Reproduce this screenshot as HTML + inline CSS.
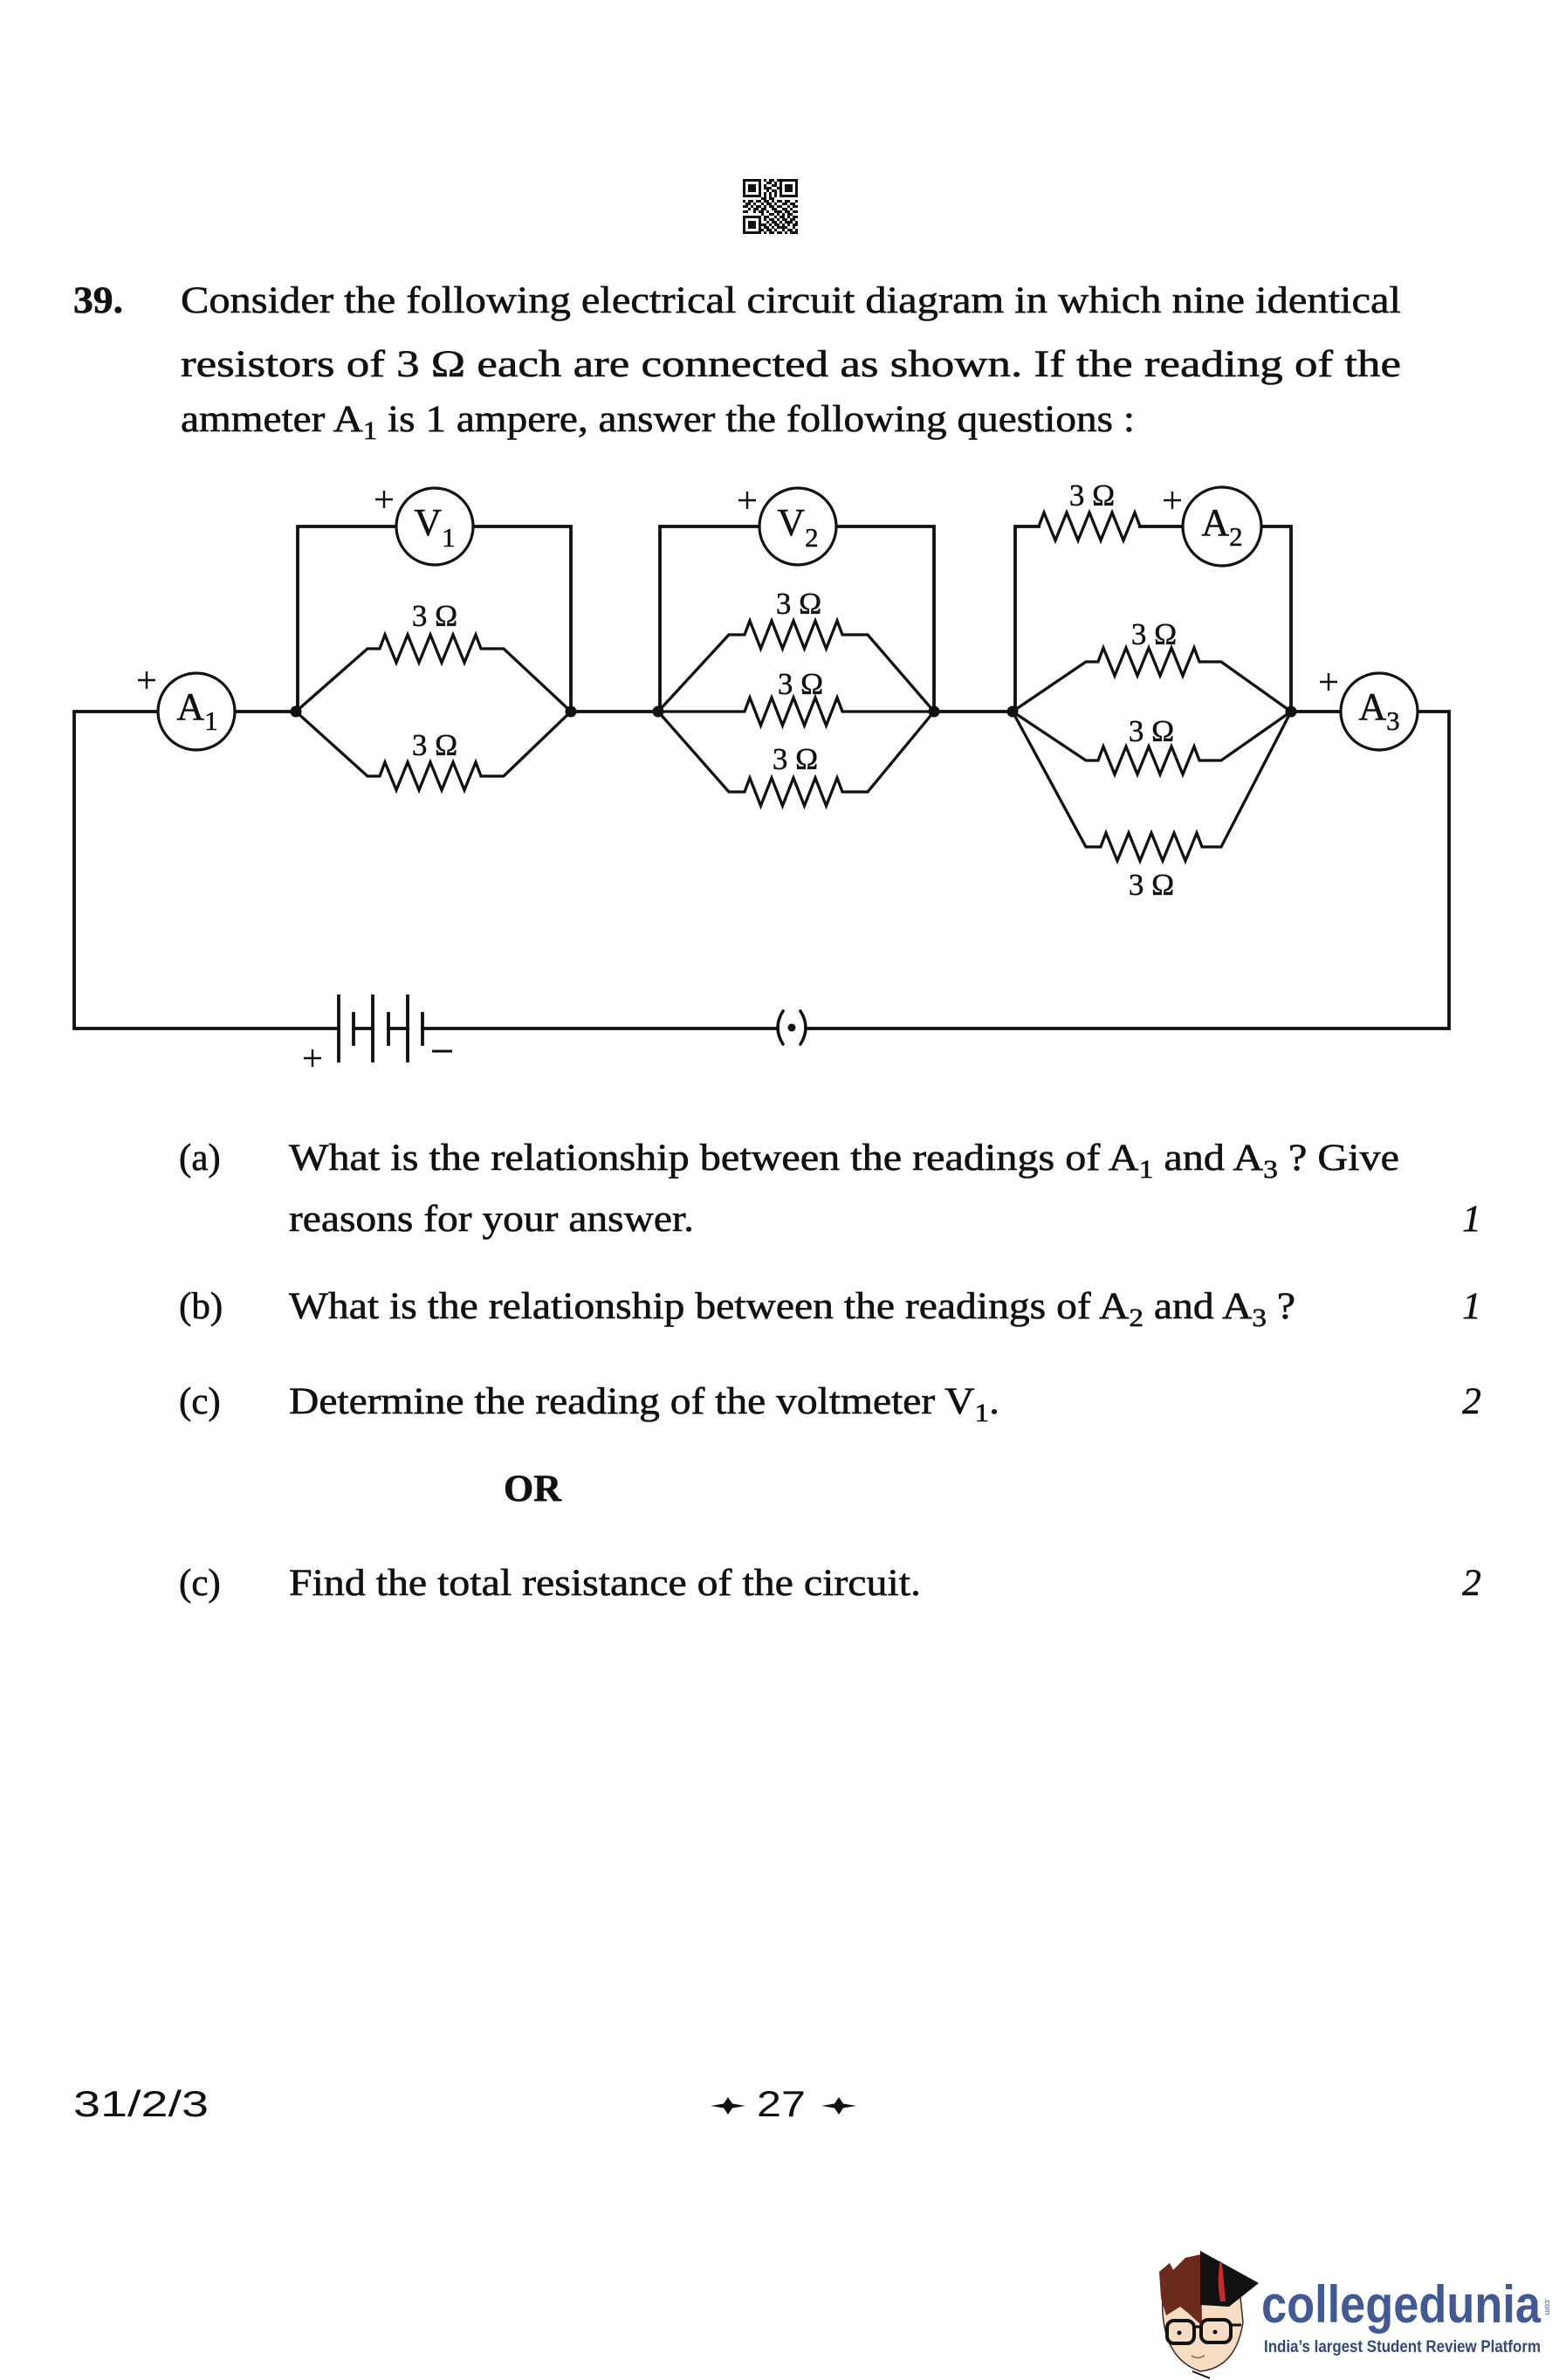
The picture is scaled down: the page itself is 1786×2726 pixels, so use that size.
<!DOCTYPE html>
<html>
<head>
<meta charset="utf-8">
<style>
html,body{margin:0;padding:0;background:#fff;}
body{width:1786px;height:2726px;overflow:hidden;position:relative;}
svg{position:absolute;left:0;top:0;}
.t{font-family:"Liberation Serif",serif;font-size:43px;fill:#111;stroke:#111;stroke-width:0.6;}
.lbl{font-family:"Liberation Serif",serif;font-size:35px;fill:#111;text-anchor:middle;stroke:#111;stroke-width:0.5;}
.m{font-family:"Liberation Serif",serif;font-size:44px;fill:#111;text-anchor:middle;stroke:#111;stroke-width:0.5;}
.w{fill:none;stroke:#111;stroke-width:3.8;stroke-linejoin:miter;stroke-linecap:square;}
.z{fill:none;stroke:#111;stroke-width:3.3;stroke-linejoin:miter;}
.c{fill:#fff;stroke:#111;stroke-width:3.2;}
.p{stroke:#111;stroke-width:2.4;fill:none;}
</style>
</head>
<body>
<svg width="1786" height="2726" viewBox="0 0 1786 2726" xmlns="http://www.w3.org/2000/svg">
<!-- QR code -->
<g transform="translate(851,205) scale(3)" fill="#111" shape-rendering="crispEdges">
<path d="M0 0h7v1h-7z M8 0h1v1h-1z M10 0h2v1h-2z M13 0h8v1h-8z
M0 1h1v1h-1z M6 1h1v1h-1z M9 1h2v1h-2z M12 1h1v1h-1z M14 1h1v1h-1z M20 1h1v1h-1z
M0 2h1v1h-1z M2 2h3v1h-3z M6 2h1v1h-1z M8 2h1v1h-1z M11 2h2v1h-2z M14 2h1v1h-1z M16 2h3v1h-3z M20 2h1v1h-1z
M0 3h1v1h-1z M2 3h3v1h-3z M6 3h1v1h-1z M8 3h3v1h-3z M13 3h2v1h-2z M16 3h3v1h-3z M20 3h1v1h-1z
M0 4h1v1h-1z M2 4h3v1h-3z M6 4h1v1h-1z M9 4h1v1h-1z M11 4h2v1h-2z M14 4h1v1h-1z M16 4h3v1h-3z M20 4h1v1h-1z
M0 5h1v1h-1z M6 5h1v1h-1z M8 5h1v1h-1z M10 5h1v1h-1z M12 5h1v1h-1z M14 5h1v1h-1z M20 5h1v1h-1z
M0 6h7v1h-7z M8 6h1v1h-1z M10 6h1v1h-1z M12 6h1v1h-1z M14 6h7v1h-7z
M7 7h2v1h-2z M10 7h2v1h-2z
M0 8h1v1h-1z M2 8h2v1h-2z M5 8h2v1h-2z M8 8h2v1h-2z M11 8h1v1h-1z M13 8h2v1h-2z M16 8h2v1h-2z M20 8h1v1h-1z
M1 9h2v1h-2z M4 9h1v1h-1z M7 9h1v1h-1z M9 9h2v1h-2z M12 9h1v1h-1z M15 9h2v1h-2z M18 9h2v1h-2z
M0 10h2v1h-2z M3 10h1v1h-1z M5 10h2v1h-2z M8 10h1v1h-1z M10 10h2v1h-2z M13 10h2v1h-2z M17 10h1v1h-1z M19 10h2v1h-2z
M2 11h1v1h-1z M4 11h2v1h-2z M7 11h2v1h-2z M11 11h2v1h-2z M15 11h2v1h-2z M18 11h1v1h-1z
M0 12h2v1h-2z M4 12h1v1h-1z M6 12h2v1h-2z M9 12h1v1h-1z M12 12h3v1h-3z M16 12h2v1h-2z M19 12h2v1h-2z
M7 13h1v1h-1z M10 13h2v1h-2z M13 13h1v1h-1z M15 13h1v1h-1z M17 13h2v1h-2z
M0 14h7v1h-7z M8 14h2v1h-2z M12 14h1v1h-1z M14 14h2v1h-2z M17 14h1v1h-1z M19 14h2v1h-2z
M0 15h1v1h-1z M6 15h1v1h-1z M8 15h1v1h-1z M10 15h2v1h-2z M13 15h1v1h-1z M15 15h2v1h-2z M18 15h2v1h-2z
M0 16h1v1h-1z M2 16h3v1h-3z M6 16h1v1h-1z M9 16h1v1h-1z M11 16h2v1h-2z M14 16h1v1h-1z M16 16h3v1h-3z M20 16h1v1h-1z
M0 17h1v1h-1z M2 17h3v1h-3z M6 17h3v1h-3z M10 17h1v1h-1z M12 17h2v1h-2z M15 17h1v1h-1z M17 17h1v1h-1z M19 17h2v1h-2z
M0 18h1v1h-1z M2 18h3v1h-3z M6 18h1v1h-1z M8 18h2v1h-2z M11 18h1v1h-1z M13 18h4v1h-4z M19 18h1v1h-1z
M0 19h1v1h-1z M6 19h2v1h-2z M9 19h2v1h-2z M12 19h1v1h-1z M15 19h1v1h-1z M17 19h2v1h-2z M20 19h1v1h-1z
M0 20h7v1h-7z M8 20h1v1h-1z M10 20h2v1h-2z M13 20h2v1h-2z M16 20h1v1h-1z M18 20h3v1h-3z"/>
</g>

<!-- Question text -->
<text class="t" x="84" y="358" font-weight="bold" textLength="57" lengthAdjust="spacingAndGlyphs">39.</text>
<text class="t" x="207" y="358" textLength="1398" lengthAdjust="spacingAndGlyphs">Consider the following electrical circuit diagram in which nine identical</text>
<text class="t" x="207" y="431" textLength="1398" lengthAdjust="spacingAndGlyphs">resistors of 3 Ω each are connected as shown. If the reading of the</text>
<text class="t" x="207" y="494" textLength="1093" lengthAdjust="spacingAndGlyphs">ammeter A<tspan dy="9" font-size="30">1</tspan><tspan dy="-9"> is 1 ampere, answer the following questions :</tspan></text>

<!-- Circuit wires -->
<path class="w" d="M181,815 H85 V1178 H388
M269,815 H339
M654,815 H754
M1070,815 H1160
M1479,815 H1536
M1624,815 H1660 V1178 H923
M891,1178 H484
M405,1178 H427
M445,1178 H467
M341,815 V603 H454
M542,603 H654 V815
M756,815 V603 H870
M958,603 H1070 V815
M1163,815 V603 H1190
M1306,603 H1355
M1445,603 H1479 V815"/>

<!-- Resistors -->
<g class="z">
<path d="M339,815 L421,743 L435,743 l6,-16 l13,32 l13,-32 l13,32 l13,-32 l13,32 l13,-32 l13,32 l13,-32 l6,16 L577,743 L654,815"/>
<path d="M339,815 L421,889 L435,889 l6,-16 l13,32 l13,-32 l13,32 l13,-32 l13,32 l13,-32 l13,32 l13,-32 l6,16 L577,889 L654,815"/>
<path d="M754,815 L835,727 L853,727 l6,-16 l12.5,32 l12.5,-32 l12.5,32 l12.5,-32 l12.5,32 l12.5,-32 l12.5,32 l12.5,-32 l6,16 L994,727 L1070,815"/>
<path d="M754,815 L853,815 l6,-16 l12.5,32 l12.5,-32 l12.5,32 l12.5,-32 l12.5,32 l12.5,-32 l12.5,32 l12.5,-32 l6,16 L1070,815"/>
<path d="M754,815 L835,907 L853,907 l6,-16 l12.5,32 l12.5,-32 l12.5,32 l12.5,-32 l12.5,32 l12.5,-32 l12.5,32 l12.5,-32 l6,16 L994,907 L1070,815"/>
<path d="M1190,603 l6,-16 l13,32 l13,-32 l13,32 l13,-32 l13,32 l13,-32 l13,32 l13,-32 l6,16"/>
<path d="M1160,815 L1244,758 L1258,758 l6,-16 l13,32 l13,-32 l13,32 l13,-32 l13,32 l13,-32 l13,32 l13,-32 l6,16 L1399,758 L1479,815"/>
<path d="M1160,815 L1244,871 L1258,871 l6,-16 l13,32 l13,-32 l13,32 l13,-32 l13,32 l13,-32 l13,32 l13,-32 l6,16 L1399,871 L1479,815"/>
<path d="M1160,815 L1244,970 L1261,970 l6,-16 l13,32 l13,-32 l13,32 l13,-32 l13,32 l13,-32 l13,32 l13,-32 l6,16 L1399,970 L1479,815"/>
</g>

<!-- Battery -->
<path class="w" d="M388,1141 V1215 M427,1141 V1215 M467,1141 V1215 M405,1161 V1196 M445,1161 V1196 M484,1161 V1196" stroke-linecap="butt"/>
<path d="M495,1204 H518" stroke="#111" stroke-width="3"/>
<path class="p" d="M348,1212 H368 M358,1202 V1222"/>

<!-- Key -->
<path d="M897,1158 Q885,1177 897,1196 M917,1158 Q929,1177 917,1196" fill="none" stroke="#111" stroke-width="3.5" stroke-linecap="round"/>
<circle cx="907" cy="1177" r="4.5" fill="#111"/>

<!-- Nodes -->
<g fill="#111">
<circle cx="339" cy="815" r="6.5"/>
<circle cx="654" cy="815" r="6.5"/>
<circle cx="754" cy="815" r="6.5"/>
<circle cx="1070" cy="815" r="6.5"/>
<circle cx="1160" cy="815" r="6.5"/>
<circle cx="1479" cy="815" r="6.5"/>
</g>

<!-- Meters -->
<circle class="c" cx="225" cy="815" r="44"/>
<circle class="c" cx="498" cy="603" r="44"/>
<circle class="c" cx="914" cy="603" r="44"/>
<circle class="c" cx="1400" cy="603" r="45"/>
<circle class="c" cx="1580" cy="815" r="44"/>
<text class="m" x="226" y="824">A<tspan dy="12" font-size="31">1</tspan></text>
<text class="m" x="498" y="613">V<tspan dy="13" font-size="31">1</tspan></text>
<text class="m" x="914" y="613">V<tspan dy="13" font-size="31">2</tspan></text>
<text class="m" x="1400" y="613">A<tspan dy="12" font-size="31">2</tspan></text>
<text class="m" x="1580" y="824">A<tspan dy="12" font-size="31">3</tspan></text>

<!-- Plus signs -->
<path class="p" d="M158,779 H178 M168,769 V789
M430,572 H450 M440,562 V582
M846,573 H866 M856,563 V583
M1333,573 H1353 M1343,563 V583
M1512,781 H1532 M1522,771 V791"/>

<!-- Resistor labels -->
<text class="lbl" x="498" y="717">3 Ω</text>
<text class="lbl" x="498" y="865">3 Ω</text>
<text class="lbl" x="915" y="703">3 Ω</text>
<text class="lbl" x="917" y="795">3 Ω</text>
<text class="lbl" x="911" y="881">3 Ω</text>
<text class="lbl" x="1251" y="579">3 Ω</text>
<text class="lbl" x="1322" y="738">3 Ω</text>
<text class="lbl" x="1319" y="849">3 Ω</text>
<text class="lbl" x="1319" y="1025">3 Ω</text>

<!-- Sub-questions -->
<text class="t" x="205" y="1340">(a)</text>
<text class="t" x="331" y="1340" textLength="1272" lengthAdjust="spacingAndGlyphs">What is the relationship between the readings of A<tspan dy="9" font-size="30">1</tspan><tspan dy="-9"> and A</tspan><tspan dy="9" font-size="30">3</tspan><tspan dy="-9"> ? Give</tspan></text>
<text class="t" x="331" y="1410" textLength="464" lengthAdjust="spacingAndGlyphs">reasons for your answer.</text>
<text class="t" x="1686" y="1410" font-style="italic" text-anchor="middle">1</text>

<text class="t" x="205" y="1510">(b)</text>
<text class="t" x="331" y="1510" textLength="1153" lengthAdjust="spacingAndGlyphs">What is the relationship between the readings of A<tspan dy="9" font-size="30">2</tspan><tspan dy="-9"> and A</tspan><tspan dy="9" font-size="30">3</tspan><tspan dy="-9"> ?</tspan></text>
<text class="t" x="1686" y="1510" font-style="italic" text-anchor="middle">1</text>

<text class="t" x="205" y="1619">(c)</text>
<text class="t" x="331" y="1619" textLength="814" lengthAdjust="spacingAndGlyphs">Determine the reading of the voltmeter V<tspan dy="9" font-size="30">1</tspan><tspan dy="-9">.</tspan></text>
<text class="t" x="1686" y="1619" font-style="italic" text-anchor="middle">2</text>

<text class="t" x="577" y="1719" font-weight="bold" textLength="66" lengthAdjust="spacingAndGlyphs">OR</text>

<text class="t" x="205" y="1827">(c)</text>
<text class="t" x="331" y="1827" textLength="724" lengthAdjust="spacingAndGlyphs">Find the total resistance of the circuit.</text>
<text class="t" x="1686" y="1827" font-style="italic" text-anchor="middle">2</text>

<!-- Footer -->
<text x="84" y="2424" font-family="'Liberation Sans',sans-serif" font-size="42" fill="#111" textLength="155" lengthAdjust="spacingAndGlyphs">31/2/3</text>
<text x="867" y="2424" font-family="'Liberation Sans',sans-serif" font-size="42" fill="#111" textLength="56" lengthAdjust="spacingAndGlyphs">27</text>
<path fill="#111" d="M814,2412 L829,2409.5 L834,2402 L839,2409.5 L854,2412 L839,2414.5 L834,2422 L829,2414.5 Z"/>
<path fill="#111" d="M941,2412 L956,2409.5 L961,2402 L966,2409.5 L981,2412 L966,2414.5 L961,2422 L956,2414.5 Z"/>

<!-- Logo cartoon -->
<g>
<path d="M1332,2628 Q1328,2700 1375,2716 Q1416,2712 1424,2660 L1420,2622 Q1380,2604 1334,2614 Z" fill="#f6dcc3" stroke="#3a2a20" stroke-width="1.5"/>
<path d="M1328,2602 L1340,2592 L1344,2600 L1358,2586 L1376,2582 L1377,2664 L1362,2650 L1352,2642 L1336,2652 L1330,2632 Z" fill="#6a2b1c"/>
<path d="M1375,2578 L1442,2615 L1408,2642 L1375,2640 Z" fill="#111"/>
<path d="M1397,2592 Q1394,2615 1398,2636 L1404,2636 Q1402,2612 1400,2592 Z" fill="#c62a2a"/>
<rect x="1337" y="2658" width="31" height="26" rx="8" fill="none" stroke="#111" stroke-width="4"/>
<rect x="1376" y="2657" width="34" height="26" rx="8" fill="none" stroke="#111" stroke-width="4"/>
<path d="M1368,2665 H1376 M1410,2663 H1422" stroke="#111" stroke-width="3"/>
<circle cx="1351" cy="2672" r="2.5" fill="#111"/>
<circle cx="1392" cy="2671" r="2.5" fill="#111"/>
<path d="M1365,2698 Q1372,2703 1380,2698" fill="none" stroke="#8a6a50" stroke-width="1.5"/>
<path d="M1366,2716 L1386,2724" stroke="#111" stroke-width="2"/>
</g>
<text x="1445" y="2660" font-family="'Liberation Sans',sans-serif" font-weight="bold" font-size="60" fill="#415a96" textLength="320" lengthAdjust="spacingAndGlyphs">collegedunia</text>
<text x="0" y="0" font-family="'Liberation Sans',sans-serif" font-size="9" fill="#415a96" transform="translate(1770,2632) rotate(90)">.com</text>
<text x="1448" y="2694" font-family="'Liberation Sans',sans-serif" font-weight="bold" font-size="19" fill="#34497a" textLength="317" lengthAdjust="spacingAndGlyphs">India’s largest Student Review Platform</text>
</svg>
</body>
</html>
